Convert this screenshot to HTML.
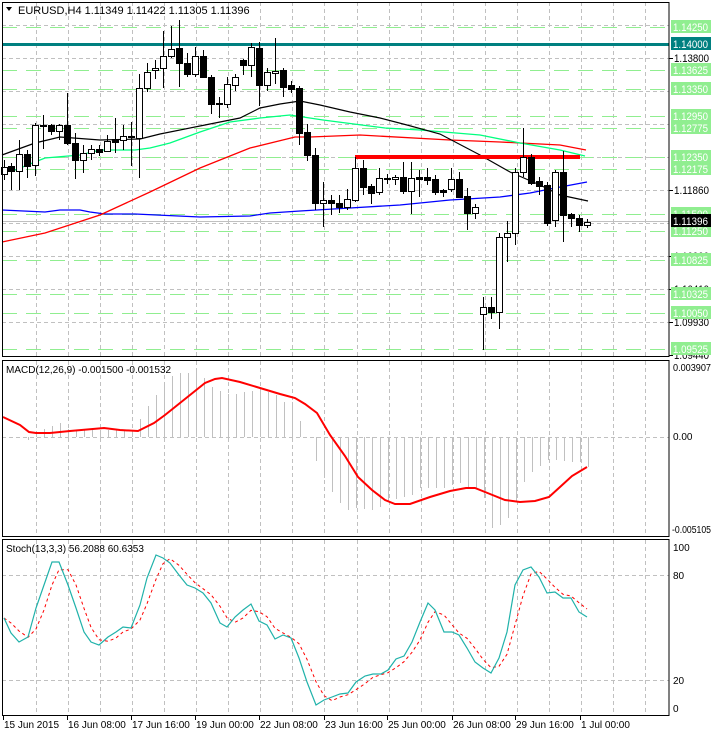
<!DOCTYPE html>
<html><head><meta charset="utf-8"><style>
html,body{margin:0;padding:0;background:#fff;}
svg{display:block;font-family:"Liberation Sans",sans-serif;}
</style></head><body>
<svg id="s" width="711" height="733" xmlns="http://www.w3.org/2000/svg"></svg>
<script>
var o=[];
function L(x1,y1,x2,y2,c,w,d){o.push('<line x1="'+x1+'" y1="'+y1+'" x2="'+x2+'" y2="'+y2+'" stroke="'+c+'" stroke-width="'+(w||1)+'"'+(d?' stroke-dasharray="'+d+'"':'')+' shape-rendering="crispEdges"/>');}
function P(pts,c,w,d){o.push('<polyline fill="none" points="'+pts.map(function(p){return p.join(',')}).join(' ')+'" stroke="'+c+'" stroke-width="'+(w||1)+'"'+(d?' stroke-dasharray="'+d+'"':'')+'/>');}
function T(x,y,t,c,s,tl){o.push('<text x="'+x+'" y="'+y+'" fill="'+(c||'#000')+'" font-size="'+(s||11)+'"'+(tl?' textLength="'+tl+'" lengthAdjust="spacingAndGlyphs"':'')+'>'+t+'</text>');}
function R(x,y,w,h,f,st){o.push('<rect x="'+x+'" y="'+y+'" width="'+w+'" height="'+h+'" fill="'+f+'"'+(st?' stroke="'+st+'"':'')+' shape-rendering="crispEdges"/>');}
var GX=[];for(var i=0;i<20;i++)GX.push(Math.round(35.5+32.1*i)+0.5);
var GR='#c0c0c0',GD='4,3';
GX.forEach(function(x){L(x,2,x,356,GR,1,GD);L(x,361,x,537,GR,1,GD);L(x,540,x,715,GR,1,GD);});
[25,58,91,124,157,190,223,256,289,322].forEach(function(y){L(2,y+0.5,669,y+0.5,GR,1,GD);});
var lv=[[27,'1.14250'],[70,'1.13625'],[89,'1.13350'],[116,'1.12950'],[128,'1.12775'],[157,'1.12350'],[169,'1.12175'],[214,'1.11500'],[231,'1.11250'],[260,'1.10825'],[294,'1.10325'],[313,'1.10050'],[349,'1.09525']];
lv.forEach(function(l){L(2,l[0]+0.5,669,l[0]+0.5,'#90ee90',1,'15,9');});
L(2,221.5,669,221.5,'#c0c0c0',1);
L(2,44.5,669,44.5,'#008080',3);
P([[2,210],[45,212],[60,210],[80,210],[90,212],[105,214],[135,214],[200,217],[250,216],[270,213],[300,211],[350,208],[400,205],[450,200],[500,197],[530,193],[555,188],[587,182]],'#0000ff',1.3);
P([[2,242],[45,233],[100,215],[150,192],[200,168],[250,148],[295,137],[310,137],[360,135],[450,140],[500,142],[560,145],[586,150]],'#ff0000',1.3);
P([[2,172],[15,170],[45,158],[80,155],[100,150],[135,150],[150,148],[170,143],[200,132],[230,122],[260,118],[290,115],[323,120],[385,128],[420,130],[480,135],[520,143],[560,150],[585,156]],'#00ff7f',1.3);
P([[2,155],[35,143],[60,137],[100,140],[140,139],[160,134],[200,126],[240,118],[260,108],[280,104],[300,101],[320,105],[350,112],[380,118],[407,125],[440,134],[480,155],[510,172],[540,185],[560,195],[588,201]],'#000',1.2);
L(355,157,580,157,'#ff0000',4);
var C=[[4,174,167,160,180],[11,166,171,163,190],[19,171,154,140,190],[27,154,166,150,178],[35,165,125,123,176],[43,125,126,115,149],[51,125,131,124,135],[59,131,125,124,140],[67,125,143,93,145],[75,143,160,133,179],[83,160,153,145,173],[91,153,149,145,160],[99,149,152,145,156],[107,151,141,135,152],[115,139,142,118,153],[123,140,136,125,150],[131,136,137,122,166],[139,138,88,74,178],[147,88,72,63,92],[155,70,68,60,79],[163,68,56,31,88],[171,56,49,26,58],[179,48,63,20,87],[187,63,74,53,77],[195,74,56,47,77],[203,56,77,50,78],[211,77,104,75,114],[219,103,104,97,118],[227,104,84,77,108],[235,85,77,74,91],[243,60,65,59,75],[251,65,47,43,77],[259,48,85,42,106],[267,85,72,68,91],[275,73,71,38,84],[283,70,87,68,97],[291,85,89,81,93],[299,88,133,86,145],[307,132,155,124,161],[315,155,203,148,210],[323,203,200,182,227],[331,200,203,195,215],[339,203,207,195,213],[347,207,199,189,210],[355,200,168,157,202],[363,168,187,160,195],[371,186,193,184,204],[379,192,178,168,195],[387,178,179,174,184],[395,179,177,175,185],[403,177,191,162,194],[411,191,178,162,214],[419,177,179,170,197],[427,177,180,168,185],[435,179,192,175,195],[443,190,192,189,197],[451,189,179,168,192],[459,179,197,172,198],[467,196,213,188,230],[475,213,207,204,219],[483,314,307,297,350],[491,307,312,297,319],[499,312,237,233,329],[507,237,233,221,262],[515,233,172,168,245],[523,172,157,128,177],[531,157,183,154,185],[539,181,186,177,195],[547,185,223,182,226],[555,220,172,170,227],[563,172,215,151,242],[571,214,218,213,227],[579,218,225,215,232],[587,225,222,219,228]];
C.forEach(function(c){var x=c[0]+0.5,t=Math.min(c[1],c[2]),b=Math.max(c[1],c[2]);L(x,c[3],x,c[4],'#000',1);var up=c[2]<c[1];if(b-t<1)b=t+1;R(c[0]-2.5,t+0.5,6,b-t,up?'#fff':'#000','#000');});
o.push('<path d="M6,7 L12,7 L9,11 Z" fill="#000"/>');
T(18,14,'EURUSD,H4  1.11349 1.11422 1.11305 1.11396','#000',11);
L(2,437.5,669,437.5,GR,1,GD);
var H=[440,433,429,426,423,429,430,430,430,430,430,430,430,430,419,406,395,386,376,373,373,368,378,387,391,394,394,392,391,388,392,395,402,402,421,437,461,478,492,503,510,508,509,510,507,502,499,497,495,488,488,488,488,485,483,487,488,498,528,525,518,502,482,472,466,460,460,461,462,462,467];
H.forEach(function(v,i){var x=28+8*i+0.5;if(v!=437)L(x,437,x,v,'#c0c0c0',1);});
P([[3,417],[20,425],[29,432],[36,433],[50,433],[70,431],[104,428],[120,430],[138,431],[154,423],[165,415],[180,403],[195,391],[205,383],[215,379],[222,378],[240,382],[260,388],[280,394],[295,398],[305,404],[317,413],[330,435],[345,456],[358,477],[372,490],[385,500],[395,504],[410,504],[430,497],[450,491],[466,488],[475,488],[490,494],[505,500],[520,502],[535,501],[549,497],[560,487],[572,476],[587,467]],'#ff0000',2);
T(6,373,'MACD(12,26,9) -0.001500 -0.001532','#000',10);
L(2,575.5,669,575.5,GR,1,GD);L(2,680.5,669,680.5,GR,1,GD);
var S=[[4,618],[11,633],[19,642],[28,637],[36,608],[44,585],[52,562],[59,562],[68,585],[76,608],[84,632],[91,642],[99,645],[108,637],[116,632],[123,627],[131,628],[140,605],[147,578],[156,555],[163,558],[170,563],[179,575],[187,585],[195,588],[203,593],[211,603],[220,623],[227,627],[235,617],[243,610],[251,604],[259,621],[267,625],[275,639],[283,635],[291,638],[299,658],[307,682],[316,705],[324,700],[332,697],[340,694],[348,693],[356,682],[365,676],[373,674],[381,674],[388,670],[396,659],[404,656],[412,642],[420,622],[428,603],[435,610],[444,632],[452,632],[459,635],[467,648],[475,662],[483,668],[491,673],[499,658],[507,632],[515,585],[523,570],[531,567],[539,577],[547,593],[555,592],[563,598],[571,598],[579,612],[587,617]];
var SG=S.map(function(p,i){var a=S[Math.max(0,i-2)][1],b=S[Math.max(0,i-1)][1];return [p[0],((a+b+p[1])/3).toFixed(1)];});
P(SG,'#ff0000',1,'3,3');
P(S,'#20b2aa',1.2);
T(6,552,'Stoch(13,3,3) 56.2088 60.6353','#000',10);
R(2.5,2.5,666.5,354,'none','#000');
R(2.5,360.5,666.5,176,'none','#000');
R(2.5,539.5,666.5,176,'none','#000');
function lab(y,t,bg,fg){R(671,y-7,40,13,bg);T(673,y+4,t,fg,11,35);}
[[58,'1.13800'],[190,'1.11860'],[256,'1.10900'],[289,'1.10410'],[322,'1.09930'],[355,'1.09440']].forEach(function(l){L(669,l[0]+0.5,673,l[0]+0.5,'#000');T(674,l[0]+4,l[1],'#000',11,35);});
lv.forEach(function(l){lab(l[0],l[1],'#90ee90','#fff');});
lab(44,'1.14000','#008080','#fff');
lab(221,'1.11396','#000','#fff');
T(673,371,'0.003907','#000',10,38);T(673,440,'0.00','#000',10);T(672,533,'-0.005105','#000',10,39);
T(673,551,'100','#000',10);T(673,579,'80','#000',10);T(673,684,'20','#000',10);T(673,712,'0','#000',10);
var tl=[[3,'15 Jun 2015'],[67,'16 Jun 08:00'],[131,'17 Jun 16:00'],[195,'19 Jun 00:00'],[259,'22 Jun 08:00'],[324,'23 Jun 16:00'],[387,'25 Jun 00:00'],[452,'26 Jun 08:00'],[515,'29 Jun 16:00'],[580,'1 Jul 00:00']];
tl.forEach(function(t){L(t[0]+0.5,716,t[0]+0.5,720,'#000');T(t[0]+1,728,t[1],'#000',10);});
document.getElementById('s').innerHTML=o.join('');
</script>
</body></html>
